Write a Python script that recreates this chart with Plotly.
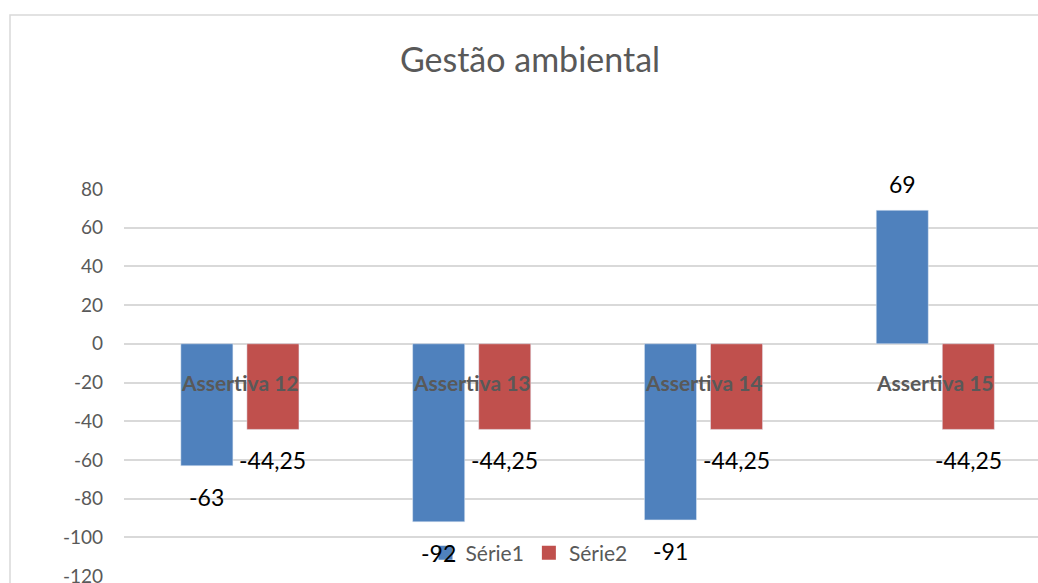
import plotly.graph_objects as go

categories = ["Assertiva 12", "Assertiva 13", "Assertiva 14", "Assertiva 15"]
serie1 = [-63, -92, -91, 69]
serie2 = [-44.25, -44.25, -44.25, -44.25]
series_names = ["Série1", "Série2"]
y_ticks = [-120, -100, -80, -60, -40, -20, 0, 20, 40, 60, 80]
title_text = "Gestão ambiental"

W, H = 1038, 583
ml, mr, mt, mb = 124, 0, 189, 7
pw = W - ml - mr
ph = H - mt - mb

blue = "#4F81BD"
red = "#C0504D"
grid = "#D9D9D9"
gray = "#595959"
font = "Lato, 'Open Sans', sans-serif"

def fmt(v):
    return ("%g" % v).replace(".", ",")

fig = go.Figure()
for vals, name, col in ((serie1, series_names[0], blue), (serie2, series_names[1], red)):
    fig.add_trace(go.Bar(x=categories, y=vals, name=name, marker=dict(color=col),
                         showlegend=False, legendgroup=name))
for name, col in ((series_names[0], blue), (series_names[1], red)):
    fig.add_trace(go.Scatter(x=[None], y=[None], mode="markers", name=name, legendgroup=name,
                             marker=dict(symbol="square", size=14, color=col)))

annotations = []
for vals, xs in ((serie1, -33), (serie2, 33)):
    for c, v in zip(categories, vals):
        annotations.append(dict(
            x=c, y=v, xref="x", yref="y", text=fmt(v), showarrow=False,
            xshift=xs, yshift=(26 if v >= 0 else -31),
            font=dict(family=font, size=23, color="#000000"),
            xanchor="center", yanchor="middle"))
for c in categories:
    annotations.append(dict(
        x=c, y=0, xref="x", yref="y", text="<b>%s</b>" % c, showarrow=False,
        yshift=-39, font=dict(family=font, size=21, color=gray),
        xanchor="center", yanchor="middle"))

cat_w = 231.8
x_end = 3.5 - (ml + 4 * cat_w - W) / cat_w

fig.update_layout(
    width=W, height=H,
    margin=dict(l=ml, r=mr, t=mt, b=mb, pad=0, autoexpand=False),
    paper_bgcolor="white", plot_bgcolor="white",
    title=dict(text=title_text, x=530 / W, xanchor="center", xref="container",
               y=1 - 60 / H, yanchor="middle", yref="container",
               font=dict(family=font, size=34, color=gray)),
    barmode="group", bargap=0.43, bargroupgap=0.212,
    xaxis=dict(range=[-0.5, x_end], showticklabels=False, showgrid=False,
               zeroline=False, showline=False, fixedrange=True, automargin=False),
    yaxis=dict(range=[-120, 80], tickmode="array", tickvals=y_ticks,
               ticktext=[str(t) for t in y_ticks], ticklabeloverflow="allow",
               showgrid=True, gridcolor=grid, gridwidth=1.5, automargin=False,
               zeroline=True, zerolinecolor=grid, zerolinewidth=1.5, showline=False,
               ticks="", ticklabelstandoff=20,
               tickfont=dict(family=font, size=19, color=gray)),
    legend=dict(orientation="h", x=(529 - ml) / pw, xanchor="center",
                y=(H - mb - 553) / ph, yanchor="middle", bgcolor="rgba(0,0,0,0)",
                font=dict(family=font, size=21, color=gray), itemwidth=30,
                tracegroupgap=0),
    annotations=annotations,
    shapes=[dict(type="rect", xref="paper", yref="paper",
                 x0=(10 - ml) / pw, x1=(W + 20 - ml) / pw,
                 y0=-0.2, y1=(H - mb - 15) / ph,
                 line=dict(color=grid, width=1.5), fillcolor="rgba(0,0,0,0)", layer="below")],
)

fig.write_html("out.html")
